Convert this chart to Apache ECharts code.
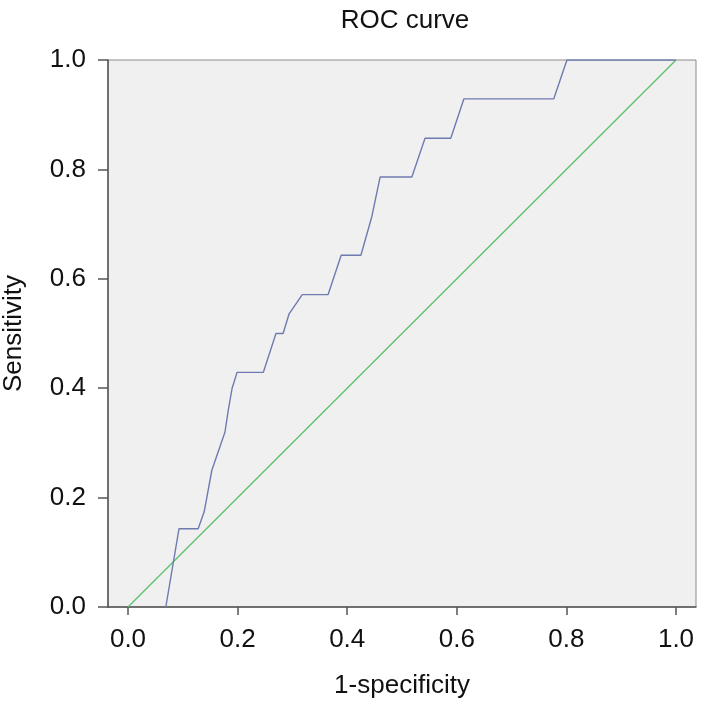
<!DOCTYPE html>
<html><head><meta charset="utf-8">
<script src="https://cdn.jsdelivr.net/npm/echarts@6/dist/echarts.min.js"></script>
<style>html,body{margin:0;padding:0;background:#fff}#c{width:701px;height:704px}</style>
</head><body><div id="c"></div>
<script>
const titleText = "ROC curve";
const xName = "1-specificity";
const yName = "Sensitivity";
const tickValues = [0, 0.2, 0.4, 0.6, 0.8, 1.0];
const fpr = [0.069, 0.093, 0.128, 0.139, 0.153, 0.177, 0.183, 0.190, 0.199, 0.247, 0.270, 0.283, 0.294, 0.318, 0.365, 0.389, 0.425, 0.445, 0.460, 0.518, 0.542, 0.589, 0.613, 0.777, 0.801, 1.0];
const tpr = [0.0, 0.143, 0.143, 0.174, 0.250, 0.320, 0.360, 0.400, 0.429, 0.429, 0.500, 0.500, 0.536, 0.571, 0.571, 0.643, 0.643, 0.714, 0.786, 0.786, 0.857, 0.857, 0.929, 0.929, 1.0, 1.0];
const refX = [0, 1];
const refY = [0, 1];

const font = "Liberation Sans";
const chart = echarts.init(document.getElementById('c'));
chart.setOption({
  animation: false,
  backgroundColor: '#fff',
  title: { text: titleText, left: 400, top: 3, textAlign: 'center',
    textStyle: { fontFamily: font, fontSize: 26, fontWeight: 'normal', color: '#111' } },
  grid: { left: 108, right: 5, top: 60, bottom: 97, show: true, outerBoundsMode: 'none', containLabel: false,
    backgroundColor: '#f0f0f0', borderColor: '#8a8a8a', borderWidth: 1 },
  xAxis: { type: 'value', min: -0.0365, max: 1.0365,
    name: xName, nameLocation: 'middle', nameGap: 66,
    nameTextStyle: { fontFamily: font, fontSize: 26, color: '#111' },
    splitLine: { show: false },
    axisLine: { onZero: false, lineStyle: { color: '#555', width: 1.5 } },
    axisTick: { show: true, length: 8, customValues: tickValues, lineStyle: { color: '#555', width: 1.5 } },
    axisLabel: { customValues: tickValues, margin: 20, fontFamily: font, fontSize: 26, color: '#111',
      formatter: v => v.toFixed(1) } },
  yAxis: { type: 'value', min: 0, max: 1, interval: 0.2,
    name: yName, nameLocation: 'middle', nameGap: 81, nameRotate: 90,
    nameTextStyle: { fontFamily: font, fontSize: 26, color: '#111' },
    splitLine: { show: false },
    axisLine: { onZero: false, lineStyle: { color: '#555', width: 1.5 } },
    axisTick: { show: true, length: 10, lineStyle: { color: '#555', width: 1.5 } },
    axisLabel: { margin: 22, fontFamily: font, fontSize: 26, color: '#111',
      formatter: v => v.toFixed(1) } },
  series: [
    { type: 'line', data: refX.map((x, i) => [x, refY[i]]), showSymbol: false,
      lineStyle: { color: '#5cbf6a', width: 1.3 }, z: 2 },
    { type: 'line', data: fpr.map((x, i) => [x, tpr[i]]), showSymbol: false,
      lineStyle: { color: '#6f7bb0', width: 1.4 }, z: 3 }
  ]
});
</script></body></html>
